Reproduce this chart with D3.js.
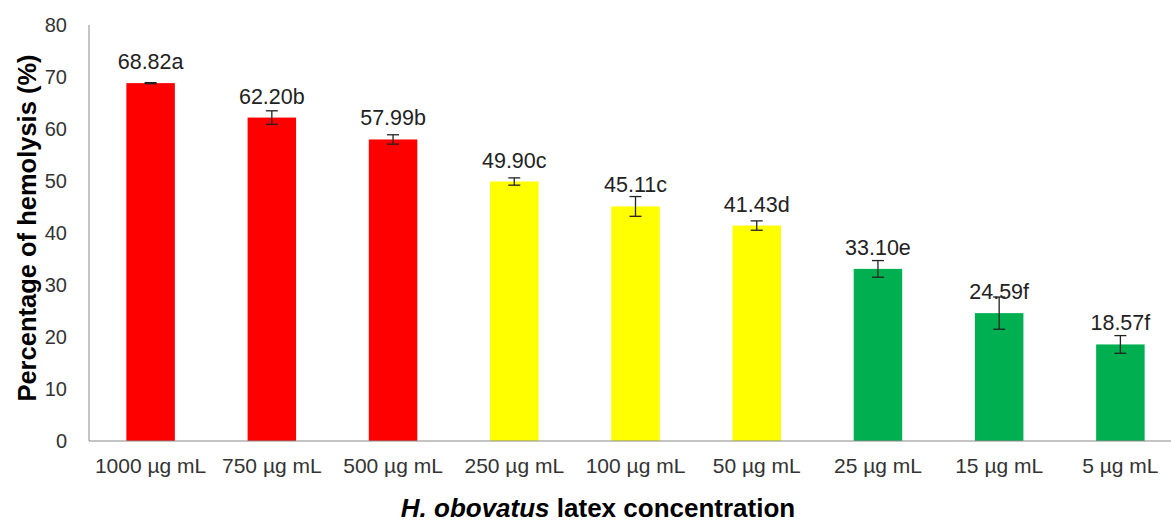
<!DOCTYPE html>
<html lang="en">
<head>
<meta charset="UTF-8">
<title>Hemolysis by latex concentration</title>
<script src="https://d3js.org/d3.v7.min.js"></script>
<style>
  body { margin: 0; background: #fff; font-family: "Liberation Sans", Arial, sans-serif; }
  text { fill: #222; }
</style>
</head>
<body>
<script>
// concentrations, mean hemolysis, error and significance letters
var concentrations = ["1000 µg mL", "750 µg mL", "500 µg mL", "250 µg mL", "100 µg mL", "50 µg mL", "25 µg mL", "15 µg mL", "5 µg mL"];
var hemolysis = [68.82, 62.20, 57.99, 49.90, 45.11, 41.43, 33.10, 24.59, 18.57];
var errors = [0.1, 1.3, 0.9, 0.7, 1.9, 0.9, 1.6, 3.1, 1.7];
var letters = ["a", "b", "b", "c", "c", "d", "e", "f", "f"];
var groups = ["high", "high", "high", "mid", "mid", "mid", "low", "low", "low"];
var yTicks = [0, 10, 20, 30, 40, 50, 60, 70, 80];

var W = 1171, H = 523;
var svg = d3.select("body").append("svg").attr("width", W).attr("height", H);

var x = d3.scaleBand().domain(concentrations).range([90, 1181]).paddingInner(0.6).paddingOuter(0.3);
var y = d3.scaleLinear().domain([0, 80]).range([441, 25]);
var color = d3.scaleOrdinal().domain(["high", "mid", "low"]).range(["#ff0000", "#ffff00", "#00b050"]);

var data = concentrations.map(function(c, i) {
  return {c: c, v: hemolysis[i], e: errors[i], l: letters[i], g: groups[i]};
});

// y axis
var yAxis = svg.append("g").attr("transform", "translate(89,0)")
  .call(d3.axisLeft(y).tickValues(yTicks).tickSize(0).tickPadding(22));
yAxis.select(".domain").attr("stroke", "#888").attr("d", "M0," + y(80) + "V" + y(0));
yAxis.selectAll("text").style("font-size", "20px").style("fill", "#333");

// bars
svg.selectAll("rect.bar").data(data).enter().append("rect")
  .attr("class", "bar")
  .attr("x", function(d) { return x(d.c); })
  .attr("width", x.bandwidth())
  .attr("y", function(d) { return y(d.v); })
  .attr("height", function(d) { return y(0) - y(d.v); })
  .attr("fill", function(d) { return color(d.g); });

// x axis
var xAxis = svg.append("g").attr("transform", "translate(0," + y(0) + ")")
  .call(d3.axisBottom(x).tickSize(0).tickPadding(17));
xAxis.select(".domain").attr("stroke", "#888").attr("d", "M89,0H" + W);
xAxis.selectAll("text").style("font-size", "21px").style("fill", "#333");

// error bars
var eb = svg.selectAll("g.err").data(data).enter().append("g").attr("class", "err")
  .attr("stroke", "#222").attr("stroke-width", 1.3);
eb.append("line")
  .attr("x1", function(d) { return x(d.c) + x.bandwidth() / 2; })
  .attr("x2", function(d) { return x(d.c) + x.bandwidth() / 2; })
  .attr("y1", function(d) { return y(d.v + d.e); })
  .attr("y2", function(d) { return y(d.v - d.e); });
[1, -1].forEach(function(s) {
  eb.append("line")
    .attr("x1", function(d) { return x(d.c) + x.bandwidth() / 2 - 6; })
    .attr("x2", function(d) { return x(d.c) + x.bandwidth() / 2 + 6; })
    .attr("y1", function(d) { return y(d.v + s * d.e); })
    .attr("y2", function(d) { return y(d.v + s * d.e); });
});

// value labels (placed from the bar top, as in the original)
svg.selectAll("text.val").data(data).enter().append("text")
  .attr("class", "val")
  .attr("x", function(d) { return x(d.c) + x.bandwidth() / 2; })
  .attr("y", function(d) { return y(d.v) - 14; })
  .attr("text-anchor", "middle")
  .style("font-size", "21.5px")
  .text(function(d) { return d.v.toFixed(2) + d.l; });

// axis titles
svg.append("text")
  .attr("transform", "translate(36,228) rotate(-90)")
  .attr("text-anchor", "middle")
  .style("font-size", "25.5px").style("font-weight", "bold").style("fill", "#000")
  .text("Percentage of hemolysis (%)");

var xt = svg.append("text")
  .attr("x", 598).attr("y", 517)
  .attr("text-anchor", "middle")
  .style("font-size", "26px").style("font-weight", "bold").style("fill", "#000");
xt.append("tspan").style("font-style", "italic").text("H. obovatus");
xt.append("tspan").text(" latex concentration");
</script>
</body>
</html>
